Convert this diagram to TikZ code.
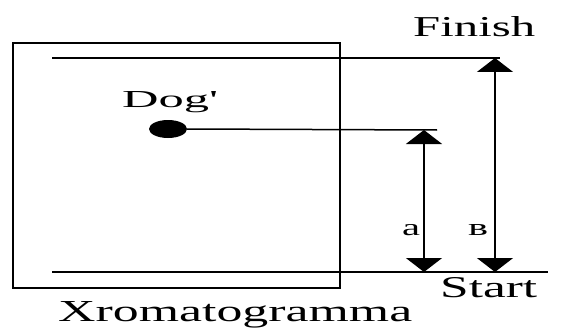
\documentclass[tikz,border=0pt]{standalone}
\usepackage{fontspec}
\setmainfont{Liberation Serif}
\usepackage{graphicx}
\usetikzlibrary{arrows.meta, positioning, shapes.geometric}
\newcommand{\wtxt}[3]{\resizebox{#1}{#2}{#3}}

\begin{document}
\begin{tikzpicture}[
  x=1pt, y=-1pt,
  frame/.style={draw=black, line width=2pt},
  level/.style={draw=black, line width=1.5pt},
  spot/.style={ellipse, fill=black, minimum width=38pt, minimum height=18pt,
               inner sep=0pt},
  dist/.style={{Triangle[length=14pt,width=36pt]}-{Triangle[length=14pt,width=36pt]},
               draw=black, line width=1.6pt},
  lbl/.style={anchor=base west, inner sep=0pt,
              font=\fontsize{26}{30}\selectfont},
]
\useasboundingbox (0,0) rectangle (568,329);

% ── plate ────────────────────────────────────────────────────────────────
\coordinate (pl-nw) at (13,43);
\coordinate (pl-se) at (340,288);
\draw[frame] (pl-nw) rectangle (pl-se);

% ── finish and start lines ───────────────────────────────────────────────
\coordinate (fin-w) at (52,58);
\coordinate (fin-e) at (500,58);
\coordinate (sta-w) at (52,272);
\coordinate (sta-e) at (548,272);
\draw[level] (fin-w) -- (fin-e);
\draw[level] (sta-w) -- (sta-e);

% ── spot ─────────────────────────────────────────────────────────────────
\node[spot] (dog) at (168,129) {};
\coordinate (dog-e) at (437,130);
\draw[level] (dog.east) -- (dog-e);

% ── distances ────────────────────────────────────────────────────────────
\coordinate (a-top) at (424,130);
\coordinate (a-bot) at (424,272);
\coordinate (b-top) at (495,58);
\coordinate (b-bot) at (495,272);
\draw[dist] (a-top) -- (a-bot);
\draw[dist] (b-top) -- (b-bot);

% ── labels ───────────────────────────────────────────────────────────────
\node[lbl] (finish) at (413,37)  {\wtxt{122pt}{20pt}{Finish}};
\node[lbl] (start)  at (440,297) {\wtxt{97pt}{20pt}{Start}};
\node[lbl] (dogl)   at (122,107) {\wtxt{96pt}{16pt}{Dog\textquotesingle}};
\node[lbl] (xrom)   at (58,321)  {\wtxt{354pt}{20pt}{Xromatogramma}};
\node[lbl] (la)     at (402,235) {\wtxt{18pt}{11pt}{a}};
\node[lbl] (lb)     at (468,235) {\wtxt{20pt}{11pt}{в}};

\end{tikzpicture}
\end{document}
